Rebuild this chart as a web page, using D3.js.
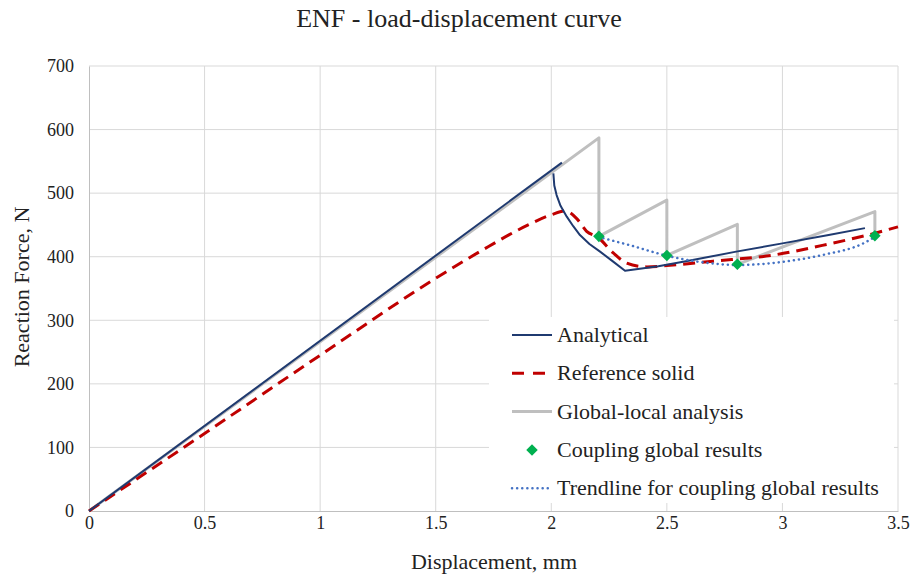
<!DOCTYPE html>
<html><head><meta charset="utf-8">
<script src="https://cdn.jsdelivr.net/npm/d3@7"></script>
<style>body{margin:0;background:#fff}svg text{font-family:"Liberation Serif","Times New Roman",serif !important;fill:#222}</style>
</head><body><svg id="c" width="914" height="578"></svg>
<script>
const xTicks = [0,0.5,1,1.5,2,2.5,3,3.5];
const yTicks = [0,100,200,300,400,500,600,700];
const analyticalLinear = [[0,0],[2.046,548]];
const analyticalCurve = [[2.009,531],[2.013,512],[2.023,497],[2.04,480],[2.067,463],[2.095,448],[2.124,434],[2.165,420],[2.211,408],[2.265,393],[2.319,378],[2.463,385],[2.6,394],[2.8,408],[3.0,421],[3.2,434],[3.357,445]];
const referenceSolid = [[0,0],[0.5,122],[1,245],[1.5,366],[1.7,410],[1.9,450],[2.0,466],[2.06,472],[2.11,460],[2.153,440],[2.2,431],[2.268,406],[2.326,390],[2.413,384],[2.5,386],[2.7,393],[2.95,402],[3.2,420],[3.4,437],[3.5,447]];
const globalLocal = [[0,0],[2.206,587],[2.206,432],[2.5,489],[2.5,402],[2.805,451],[2.805,388],[3.4,471],[3.4,433]];
const couplingPoints = [[2.206,432],[2.5,402],[2.805,388],[3.4,433]];
const trendline = [[2.204,431],[2.341,418],[2.506,401],[2.658,391],[2.809,387],[3.004,392],[3.177,403],[3.35,421],[3.4,431]];
const legendLabels = ["Analytical","Reference solid","Global-local analysis","Coupling global results","Trendline for coupling global results"];

const FONT = '"Liberation Serif","Times New Roman",serif';
const svg = d3.select("#c");
const L=89,R=898,T=66,B=511;
const x = d3.scaleLinear().domain([0,3.5]).range([L,R]);
const y = d3.scaleLinear().domain([0,700]).range([B,T]);

// gridlines
svg.append("g").selectAll("line").data(xTicks.slice(1)).join("line")
  .attr("x1",d=>x(d)).attr("x2",d=>x(d)).attr("y1",T).attr("y2",B)
  .attr("stroke","#d9d9d9").attr("stroke-width",1);
svg.append("g").selectAll("line").data(yTicks.slice(1)).join("line")
  .attr("x1",L).attr("x2",R).attr("y1",d=>y(d)).attr("y2",d=>y(d))
  .attr("stroke","#d9d9d9").attr("stroke-width",1);

// axes
const xa = svg.append("g").attr("transform",`translate(0,${B})`)
  .call(d3.axisBottom(x).tickValues(xTicks).tickSize(0).tickPadding(5).tickFormat(d3.format("")));
xa.select(".domain").attr("stroke","#bfbfbf");
const ya = svg.append("g").attr("transform",`translate(${L},0)`)
  .call(d3.axisLeft(y).tickValues(yTicks).tickSize(0).tickPadding(15));
ya.select(".domain").attr("stroke","#bfbfbf");
svg.selectAll(".tick text").attr("font-size",18).attr("font-family",FONT).attr("fill","#222");

// titles
svg.append("text").attr("x",459).attr("y",27).attr("text-anchor","middle").attr("font-size",26).attr("font-family",FONT).text("ENF - load-displacement curve");
svg.append("text").attr("x",494).attr("y",569).attr("text-anchor","middle").attr("font-size",22).attr("font-family",FONT).text("Displacement, mm");
svg.append("text").attr("transform","translate(29,287) rotate(-90)").attr("text-anchor","middle").attr("font-size",22).attr("font-family",FONT).text("Reaction Force, N");

const line = d3.line().x(d=>x(d[0])).y(d=>y(d[1]));
const lc = d3.line().x(d=>x(d[0])).y(d=>y(d[1])).curve(d3.curveMonotoneX);

svg.append("path").attr("d",line(globalLocal)).attr("fill","none").attr("stroke","#bfbfbf").attr("stroke-width",3).attr("stroke-linejoin","round");
svg.append("path").attr("d",lc(referenceSolid)).attr("fill","none").attr("stroke","#c00000").attr("stroke-width",3).attr("stroke-dasharray","12,7");
svg.append("path").attr("d",line(analyticalLinear)).attr("fill","none").attr("stroke","#1f3a70").attr("stroke-width",2);
svg.append("path").attr("d",line(analyticalCurve)).attr("fill","none").attr("stroke","#1f3a70").attr("stroke-width",2).attr("stroke-linejoin","round");
svg.append("path").attr("d",lc(trendline)).attr("fill","none").attr("stroke","#4472c4").attr("stroke-width",2.5).attr("stroke-dasharray","0.1,5").attr("stroke-linecap","round");
const sym = d3.symbol().type(d3.symbolDiamond2).size(85);
svg.append("g").selectAll("path").data(couplingPoints).join("path")
  .attr("transform",d=>`translate(${x(d[0])},${y(d[1])})`).attr("d",sym).attr("fill","#00b050");

// legend
const lg = svg.append("g");
lg.append("rect").attr("x",489).attr("y",317).attr("width",405).attr("height",186).attr("fill","#fff");
const ly0=335, ldy=38.3, lx1=512, lx2=552, tx=557;
legendLabels.forEach((t,i)=>{
  const yy=ly0+i*ldy;
  if(i===0) lg.append("line").attr("x1",lx1).attr("x2",lx2).attr("y1",yy).attr("y2",yy).attr("stroke","#1f3a70").attr("stroke-width",2);
  if(i===1) lg.append("line").attr("x1",lx1).attr("x2",lx2).attr("y1",yy).attr("y2",yy).attr("stroke","#c00000").attr("stroke-width",3).attr("stroke-dasharray","12,9");
  if(i===2) lg.append("line").attr("x1",lx1).attr("x2",lx2).attr("y1",yy).attr("y2",yy).attr("stroke","#bfbfbf").attr("stroke-width",3);
  if(i===3) lg.append("path").attr("transform",`translate(${(lx1+lx2)/2},${yy})`).attr("d",sym).attr("fill","#00b050");
  if(i===4) lg.append("line").attr("x1",lx1).attr("x2",lx2).attr("y1",yy).attr("y2",yy).attr("stroke","#4472c4").attr("stroke-width",2.5).attr("stroke-dasharray","0.1,5").attr("stroke-linecap","round");
  lg.append("text").attr("x",tx).attr("y",yy+7).attr("font-size",22).attr("font-family",FONT).text(t);
});
</script></body></html>
